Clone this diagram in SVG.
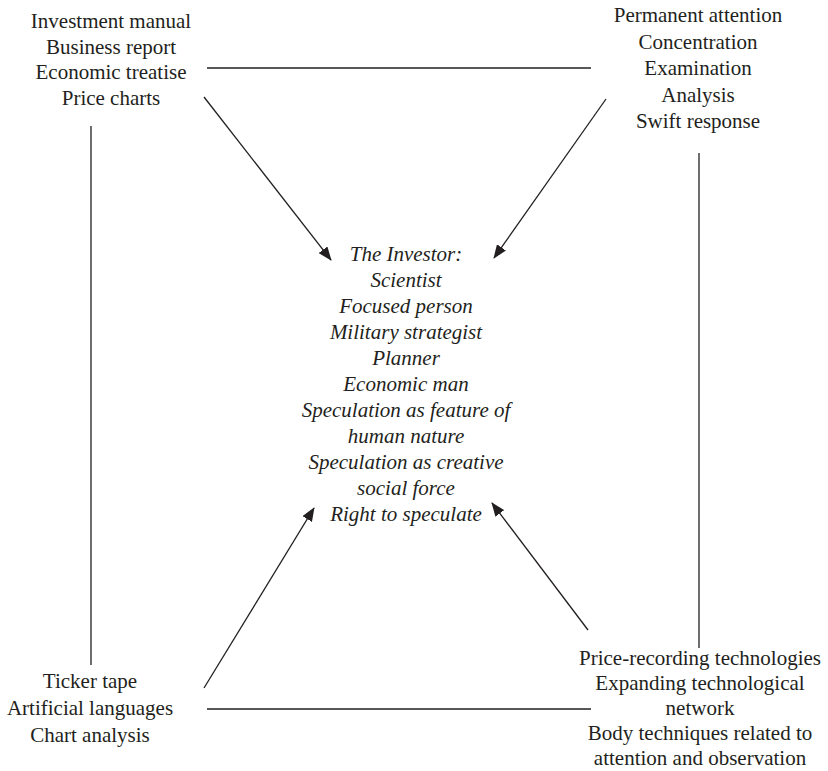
<svg xmlns="http://www.w3.org/2000/svg" width="828" height="771" viewBox="0 0 828 771">
<defs>
<style>
text{font-family:"Liberation Serif","Times New Roman",serif;font-size:21px;fill:#231f20;text-anchor:middle}
.it{font-style:italic}
.ln{stroke:#231f20;stroke-width:1.3;fill:none}
</style>
<marker id="ah" viewBox="0 0 14 11" refX="13" refY="5.5" markerWidth="14" markerHeight="11" markerUnits="userSpaceOnUse" orient="auto">
<path d="M0,0 L14,5.5 L0,11 z" fill="#231f20"/>
</marker>
</defs>
<rect width="828" height="771" fill="#fff"/>
<g id="connectors">
<line class="ln" x1="207" y1="68" x2="591" y2="68"/>
<line class="ln" x1="207" y1="709" x2="591" y2="709"/>
<line class="ln" x1="91" y1="126" x2="91" y2="665"/>
<line class="ln" x1="699" y1="153" x2="699" y2="648"/>
<line class="ln" x1="204" y1="97" x2="331" y2="260" marker-end="url(#ah)"/>
<line class="ln" x1="606" y1="99" x2="494" y2="258" marker-end="url(#ah)"/>
<line class="ln" x1="204" y1="688" x2="314" y2="508" marker-end="url(#ah)"/>
<line class="ln" x1="588" y1="630" x2="492" y2="503" marker-end="url(#ah)"/>
</g>
<g id="top-left">
<text x="111" y="28">Investment manual</text>
<text x="111" y="53.5">Business report</text>
<text x="111" y="79">Economic treatise</text>
<text x="111" y="104.5">Price charts</text>
</g>
<g id="top-right">
<text x="698" y="22">Permanent attention</text>
<text x="698" y="48.5">Concentration</text>
<text x="698" y="75">Examination</text>
<text x="698" y="101.5">Analysis</text>
<text x="698" y="128">Swift response</text>
</g>
<g id="center">
<text class="it" x="406" y="261">The Investor:</text>
<text class="it" x="406" y="287">Scientist</text>
<text class="it" x="406" y="313">Focused person</text>
<text class="it" x="406" y="339">Military strategist</text>
<text class="it" x="406" y="365">Planner</text>
<text class="it" x="406" y="391">Economic man</text>
<text class="it" x="406" y="417">Speculation as feature of</text>
<text class="it" x="406" y="443">human nature</text>
<text class="it" x="406" y="469">Speculation as creative</text>
<text class="it" x="406" y="495">social force</text>
<text class="it" x="406" y="521">Right to speculate</text>
</g>
<g id="bottom-left">
<text x="90" y="688">Ticker tape</text>
<text x="90" y="715">Artificial languages</text>
<text x="90" y="742">Chart analysis</text>
</g>
<g id="bottom-right">
<text x="700" y="665">Price-recording technologies</text>
<text x="700" y="690">Expanding technological</text>
<text x="700" y="715">network</text>
<text x="700" y="740">Body techniques related to</text>
<text x="700" y="765">attention and observation</text>
</g>
</svg>
